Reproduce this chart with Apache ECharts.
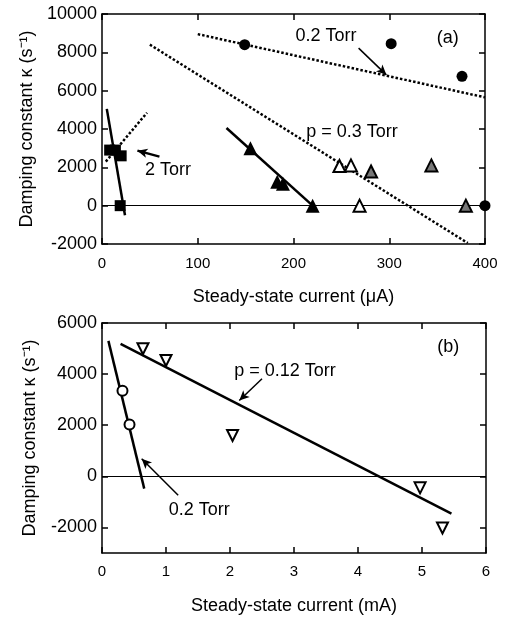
<!DOCTYPE html>
<html><head><meta charset="utf-8">
<script src="https://cdn.jsdelivr.net/npm/echarts@6/dist/echarts.min.js"></script>
<style>html,body{margin:0;padding:0;background:#fff}#c{width:505px;height:618px}</style>
</head><body><div id="c"></div>
<script>
// ---------- Panel (a) data ----------
const aSquares2Torr = [[8,2900],[14,2900],[20,2600],[19,0]];
const aCircles02Torr = [[149,8400],[302,8450],[376,6750],[400,0]];
const aFilledTri = [[155,3000],[183,1250],[189,1150],[220,0]];
const aOpenTri = [[248,2070],[260,2100],[269,0]];
const aHatchTri = [[281,1780],[344,2100],[380,0]];
const aFit2Torr = [[5,5050],[24,-500]];
const aDot2Torr = [[4,2300],[47,4850]];
const aFit02Torr = [[100,8950],[400,5650]];
const aFit03Torr = [[50,8400],[382,-1950]];
const aFitTri = [[130,4050],[220,0]];
const aArrow02 = [[268,8220],[297,6825]];
const aArrow2T = [[60,2560],[37,2870]];
const aLabels = [
  {name:'0.2 Torr', value:[234,8825]},
  {name:'(a)', value:[361,8740]},
  {name:'p = 0.3 Torr', value:[261,3865]},
  {name:'2 Torr', value:[69,1865]}
];
const aXTicks = [0,100,200,300,400];
const aYTicks = [-2000,0,2000,4000,6000,8000,10000];

// ---------- Panel (b) data ----------
const bCircles02Torr = [[0.32,3350],[0.43,2030]];
const bDownTri = [[0.64,4990],[1.0,4530],[2.04,1600],[4.97,-450],[5.32,-2020]];
const bFit02Torr = [[0.10,5300],[0.66,-480]];
const bFit012Torr = [[0.29,5180],[5.46,-1460]];
const bArrow012 = [[2.50,3820],[2.145,2970]];
const bArrow02 = [[1.19,-740],[0.62,690]];
const bLabels = [
  {name:'p = 0.12 Torr', value:[2.86,4140]},
  {name:'(b)', value:[5.41,5050]},
  {name:'0.2 Torr', value:[1.52,-1330]}
];
const bXTicks = [0,1,2,3,4,5,6];
const bYTicks = [-2000,0,2000,4000,6000];

const FONT = '"Liberation Sans", Arial, sans-serif';
const chart = echarts.init(document.getElementById('c'), null, {renderer:'canvas'});
const plain = v => String(v);

function xAxisMain(grid, min, max, interval, name, margin, gap){
  return {type:'value', gridIndex:grid, min, max, interval, position:'bottom',
    name, nameLocation:'middle', nameGap: gap,
    nameTextStyle:{fontFamily:FONT, fontSize:18, color:'#000'},
    axisLine:{show:true, onZero:false, lineStyle:{color:'#000', width:1.5}},
    axisTick:{show:true, inside:true, length:6, lineStyle:{color:'#000', width:1.5}},
    axisLabel:{fontFamily:FONT, fontSize:15, color:'#000', margin:margin, formatter:plain},
    splitLine:{show:false}};
}
function xAxisMirror(grid, min, max, interval){
  return {type:'value', gridIndex:grid, min, max, interval, position:'top',
    axisLine:{show:true, onZero:false, lineStyle:{color:'#000', width:1.5}},
    axisTick:{show:true, inside:true, length:6, lineStyle:{color:'#000', width:1.5}},
    axisLabel:{show:false}, splitLine:{show:false}};
}
function yAxisMain(grid, min, max, ticks){
  return {type:'value', gridIndex:grid, min, max, position:'left',
    name:'Damping constant κ (s⁻¹)', nameLocation:'middle', nameGap:63, nameRotate:90,
    nameTextStyle:{fontFamily:FONT, fontSize:18, color:'#000'},
    axisLine:{show:true, onZero:false, lineStyle:{color:'#000', width:1.5}},
    axisTick:{show:true, inside:true, length:6, customValues:ticks, lineStyle:{color:'#000', width:1.5}},
    axisLabel:{fontFamily:FONT, fontSize:18, color:'#000', margin:5, customValues:ticks, formatter:plain},
    splitLine:{show:false}};
}
function yAxisMirror(grid, min, max, ticks){
  return {type:'value', gridIndex:grid, min, max, position:'right',
    axisLine:{show:true, onZero:false, lineStyle:{color:'#000', width:1.5}},
    axisTick:{show:true, inside:true, length:6, customValues:ticks, lineStyle:{color:'#000', width:1.5}},
    axisLabel:{show:false, customValues:ticks}, splitLine:{show:false}};
}

function lineS(xi, yi, data, dotted, width){
  return {type:'line', xAxisIndex:xi, yAxisIndex:yi, data, symbol:'none', silent:true,
    lineStyle:{color:'#000', width: width||2.5, type: dotted ? [2.5,2] : 'solid'}, z:3};
}
function scatterS(xi, yi, data, symbol, size, fill, border){
  return {type:'scatter', xAxisIndex:xi, yAxisIndex:yi, data, symbol, symbolSize:size, silent:true,
    itemStyle:{color:fill, borderColor:'#000', borderWidth:border||0, opacity:1}, z:5};
}
function arrowS(xi, yi, pts, width){
  return {type:'line', xAxisIndex:xi, yAxisIndex:yi, data:[], silent:true,
    markLine:{silent:true, symbol:['none','arrow'], symbolSize:[7,10],
      lineStyle:{color:'#000', width:width, type:'solid', opacity:1}, label:{show:false},
      data:[[{coord:pts[0]},{coord:pts[1]}]]}};
}
function labelS(xi, yi, data){
  return {type:'scatter', xAxisIndex:xi, yAxisIndex:yi, data, symbolSize:1, silent:true,
    itemStyle:{color:'rgba(0,0,0,0)', opacity:1},
    label:{show:true, position:'inside', formatter:'{b}', fontFamily:FONT, fontSize:18, color:'#000', opacity:1}, z:6};
}
function zeroS(xi, yi){
  return {type:'line', xAxisIndex:xi, yAxisIndex:yi, data:[], silent:true,
    markLine:{silent:true, symbol:['none','none'], label:{show:false},
      lineStyle:{color:'#000', width:1, type:'solid', opacity:1}, data:[{yAxis:0}]}};
}

const option = {
  animation:false,
  backgroundColor:'#fff',
  grid:[
    {left:102, right:20, top:14, height:230},
    {left:102, right:19, top:323, height:230}
  ],
  xAxis:[
    xAxisMain(0, aXTicks[0], aXTicks[aXTicks.length-1], 100, 'Steady-state current (μA)', 12, 44),
    xAxisMirror(0, aXTicks[0], aXTicks[aXTicks.length-1], 100),
    xAxisMain(1, bXTicks[0], bXTicks[bXTicks.length-1], 1, 'Steady-state current (mA)', 11, 44),
    xAxisMirror(1, bXTicks[0], bXTicks[bXTicks.length-1], 1)
  ],
  yAxis:[
    yAxisMain(0, -2000, 10000, aYTicks),
    yAxisMirror(0, -2000, 10000, aYTicks),
    yAxisMain(1, -3000, 6000, bYTicks),
    yAxisMirror(1, -3000, 6000, bYTicks)
  ],
  series:[
    zeroS(0,0),
    lineS(0,0,aFit2Torr,false,2.5),
    lineS(0,0,aDot2Torr,true,2.5),
    lineS(0,0,aFit02Torr,true,2.5),
    lineS(0,0,aFit03Torr,true,2.5),
    lineS(0,0,aFitTri,false,2.5),
    scatterS(0,0,aSquares2Torr,'rect',11,'#000',0),
    scatterS(0,0,aCircles02Torr,'circle',11,'#000',0),
    scatterS(0,0,aFilledTri,'triangle',14,'#000',0),
    scatterS(0,0,aOpenTri,'triangle',12,'#fff',2),
    scatterS(0,0,aHatchTri,'triangle',12,'#777',2),
    arrowS(0,0,aArrow02,1.5),
    arrowS(0,0,aArrow2T,2.5),
    labelS(0,0,aLabels),

    zeroS(2,2),
    lineS(2,2,bFit02Torr,false,2.5),
    lineS(2,2,bFit012Torr,false,2.5),
    scatterS(2,2,bCircles02Torr,'circle',10,'#fff',2),
    scatterS(2,2,bDownTri,'triangle',11,'#fff',2),
    arrowS(2,2,bArrow012,1.5),
    arrowS(2,2,bArrow02,1.5),
    labelS(2,2,bLabels)
  ]
};
// down-pointing triangles for panel (b)
option.series[18].symbolRotate = 180;
chart.setOption(option);
</script></body></html>
